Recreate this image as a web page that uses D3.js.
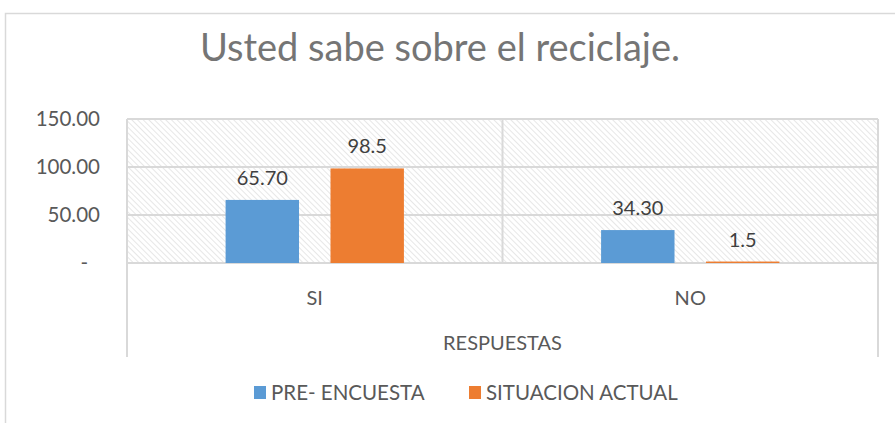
<!DOCTYPE html>
<html>
<head>
	<meta charset="utf-8">
	<script src="https://d3js.org/d3.v7.min.js"></script>
	<style>
		body { margin: 0; background: #fff; }
		text { font-family: Lato, "Open Sans", sans-serif; }
	</style>
</head>
<body>
	<svg id="chart" width="895" height="423"></svg>
	<script>

	// data
	const categories = ["SI", "NO"];
	const seriesNames = ["PRE- ENCUESTA", "SITUACION ACTUAL"];
	const preEncuesta = [65.70, 34.30];
	const situacionActual = [98.5, 1.5];
	const yTicks = [0, 50, 100, 150];

	const colors = ["#5b9bd5", "#ed7d31"];
	const labelDigits = [2, 1];

	const svg = d3.select("#chart");
	const plot = { left: 127, right: 878, top: 119, bottom: 263 };

	// hatch fill of the plot area
	const defs = svg.append("defs");
	const pat = defs.append("pattern")
		.attr("id", "hatch")
		.attr("patternUnits", "userSpaceOnUse")
		.attr("width", 4).attr("height", 4)
		.attr("patternTransform", "rotate(-45)");
	pat.append("line")
		.attr("x1", 0).attr("y1", 0).attr("x2", 0).attr("y2", 4)
		.style("stroke", "#d6d6d6").style("stroke-width", 1.2);

	// outer chart border
	svg.append("rect")
		.attr("x", 5.5).attr("y", 13.5)
		.attr("width", 900).attr("height", 420)
		.style("fill", "none").style("stroke", "#d9d9d9").style("stroke-width", 1.5);

	const x0 = d3.scaleBand()
		.domain(categories)
		.range([plot.left, plot.right]);

	const x1 = d3.scaleBand()
		.domain(seriesNames)
		.range([0, x0.bandwidth()])
		.paddingInner(0.3)
		.paddingOuter(0.94);

	const y = d3.scaleLinear()
		.domain([0, 150])
		.range([plot.bottom, plot.top]);

	svg.append("rect")
		.attr("x", plot.left).attr("y", plot.top)
		.attr("width", plot.right - plot.left).attr("height", plot.bottom - plot.top)
		.style("fill", "url(#hatch)");

	// gridlines
	svg.append("g")
		.selectAll("line")
		.data(yTicks)
		.join("line")
			.attr("x1", plot.left).attr("x2", plot.right)
			.attr("y1", d => y(d)).attr("y2", d => y(d))
			.style("stroke", "#d9d9d9").style("stroke-width", 2);

	// vertical lines: plot edges extend down around the category axis, divider between groups
	const axisBottom = 357;
	svg.append("g")
		.selectAll("line")
		.data([plot.left, plot.right])
		.join("line")
			.attr("x1", d => d).attr("x2", d => d)
			.attr("y1", plot.top).attr("y2", axisBottom)
			.style("stroke", "#d9d9d9").style("stroke-width", 2);
	svg.append("line")
		.attr("x1", x0("NO")).attr("x2", x0("NO"))
		.attr("y1", plot.top).attr("y2", plot.bottom)
		.style("stroke", "#d9d9d9").style("stroke-width", 2);

	// y axis labels
	svg.append("g")
		.selectAll("text")
		.data(yTicks)
		.join("text")
			.attr("x", d => d === 0 ? 88 : 100)
			.attr("y", d => y(d) + 7)
			.attr("text-anchor", "end")
			.style("font-size", "20.5px")
			.style("fill", "#595959")
			.text(d => d === 0 ? "-" : d.toFixed(2));

	// bars
	const rows = categories.map((c, i) => ({
		cat: c,
		vals: [preEncuesta[i], situacionActual[i]]
	}));

	const groups = svg.append("g")
		.selectAll("g")
		.data(rows)
		.join("g")
			.attr("transform", d => `translate(${x0(d.cat)},0)`);

	groups.selectAll("rect")
		.data(d => d.vals.map((v, j) => ({ v, j })))
		.join("rect")
			.attr("x", d => x1(seriesNames[d.j]))
			.attr("y", d => y(d.v))
			.attr("width", x1.bandwidth())
			.attr("height", d => y(0) - y(d.v))
			.style("fill", d => colors[d.j]);

	groups.selectAll("text")
		.data(d => d.vals.map((v, j) => ({ v, j })))
		.join("text")
			.attr("x", d => x1(seriesNames[d.j]) + x1.bandwidth() / 2)
			.attr("y", d => y(d.v) - 15)
			.attr("text-anchor", "middle")
			.style("font-size", "20px")
			.style("fill", "#404040")
			.text(d => d.v.toFixed(labelDigits[d.j]));

	// category labels
	svg.append("g")
		.selectAll("text")
		.data(categories)
		.join("text")
			.attr("x", d => x0(d) + x0.bandwidth() / 2)
			.attr("y", 305)
			.attr("text-anchor", "middle")
			.style("font-size", "20px")
			.style("fill", "#595959")
			.text(d => d);

	svg.append("text")
		.attr("x", (plot.left + plot.right) / 2)
		.attr("y", 350)
		.attr("text-anchor", "middle")
		.style("font-size", "20px")
		.style("fill", "#595959")
		.text("RESPUESTAS");

	// title
	svg.append("text")
		.attr("x", 440)
		.attr("y", 61)
		.attr("text-anchor", "middle")
		.style("font-size", "38px")
		.style("fill", "#757575")
		.text("Usted sabe sobre el reciclaje.");

	// legend
	const legendX = [254, 469];
	const legend = svg.append("g")
		.selectAll("g")
		.data(seriesNames)
		.join("g")
			.attr("transform", (d, i) => `translate(${legendX[i]},386)`);
	legend.append("rect")
		.attr("width", 12).attr("height", 13)
		.style("fill", (d, i) => colors[i]);
	legend.append("text")
		.attr("x", 17).attr("y", 14)
		.style("font-size", "20.5px")
		.style("fill", "#595959")
		.text(d => d);

	</script>
</body>
</html>
